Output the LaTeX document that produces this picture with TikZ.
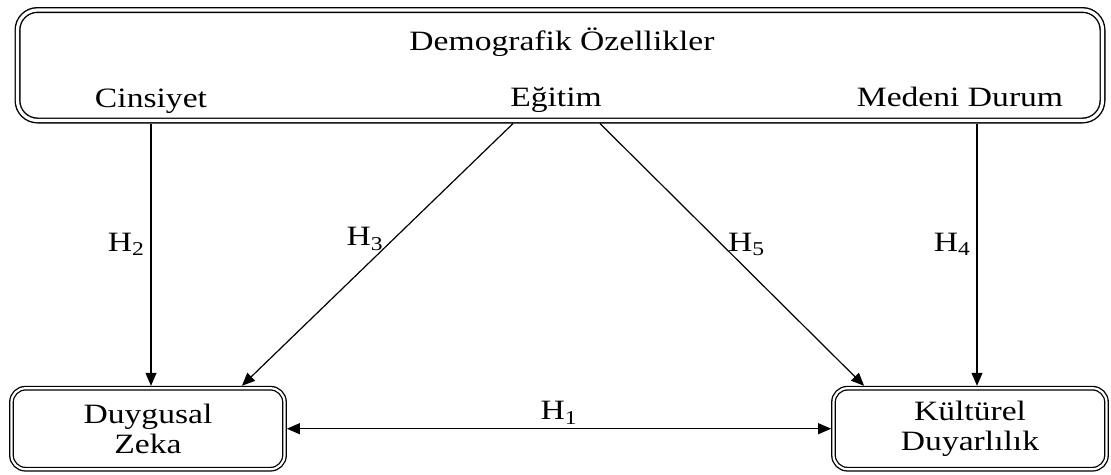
\documentclass[tikz,border=0pt]{standalone}
\usepackage{fontspec}
\setmainfont{Liberation Serif}
\usepackage{graphicx}
\usetikzlibrary{arrows.meta, positioning, calc}
\newcommand{\wide}[1]{\scalebox{1.2}[1]{#1}}
\tikzset{
	outerbox/.style={rectangle, rounded corners=20pt, draw=black, line width=1.4pt, double, double distance=3.2pt, minimum width=1085pt, minimum height=110.5pt, outer sep=3pt},
	varbox/.style  ={rectangle, rounded corners=14pt, draw=black, line width=1.3pt, double, double distance=2.2pt, minimum width=273pt, minimum height=81pt, align=center, outer sep=2.4pt},
	lbl/.style     ={inner sep=0pt, anchor=base},
	hyp/.style     ={-{Triangle[length=13pt, width=11pt]}, line width=1.2pt},
	hyplab/.style  ={inner sep=6pt},
}
\begin{document}
\begin{tikzpicture}[x=1pt, y=-1pt, font=\fontsize{28}{30}\selectfont]
	\useasboundingbox (0,0) rectangle (1111,474);
	% demographic block
	\node[outerbox] (demo) at (560,65.25) {};
	\node[lbl] (title) at (562,50) {\wide{Demografik Özellikler}};
	\node[lbl] (cins) at (151,107) {\wide{Cinsiyet}};
	\node[lbl] (egit) at (556,106) {\wide{Eğitim}};
	\node[lbl] (medeni) at (960,106) {\wide{Medeni Durum}};
	% outcome variables
	\node[varbox] (dz) at (148,428.7) {\wide{Duygusal}\\\wide{Zeka}};
	\node[varbox] (kd) at (970,428.7) {\wide{Kültürel}\\\wide{Duyarlılık}};
	% hypotheses
	\draw[hyp] (demo.south -| cins) -- (dz.north -| cins) node[hyplab, pos=0.46, left] (h2) {\wide{H\textsubscript{2}}};
	\draw[hyp] ($(demo.south -| egit.west)+(3,0)$) -- ($(dz.north east)+(-45,0)$) node[hyplab, pos=0.44, left, xshift=-4pt] (h3) {\wide{H\textsubscript{3}}};
	\draw[hyp] ($(demo.south -| egit.east)+(-2,0)$) -- ($(kd.north west)+(33,0)$) node[hyplab, pos=0.46, right] (h5) {\wide{H\textsubscript{5}}};
	\draw[hyp] (demo.south -| 977,0) -- (kd.north -| 977,0) node[hyplab, pos=0.46, left] (h4) {\wide{H\textsubscript{4}}};
	\draw[hyp, {Triangle[length=13pt, width=11pt]}-{Triangle[length=13pt, width=11pt]}] (dz.east) -- (kd.west) node[midway, above, inner sep=4pt] (h1) {\wide{H\textsubscript{1}}};
\end{tikzpicture}
\end{document}
